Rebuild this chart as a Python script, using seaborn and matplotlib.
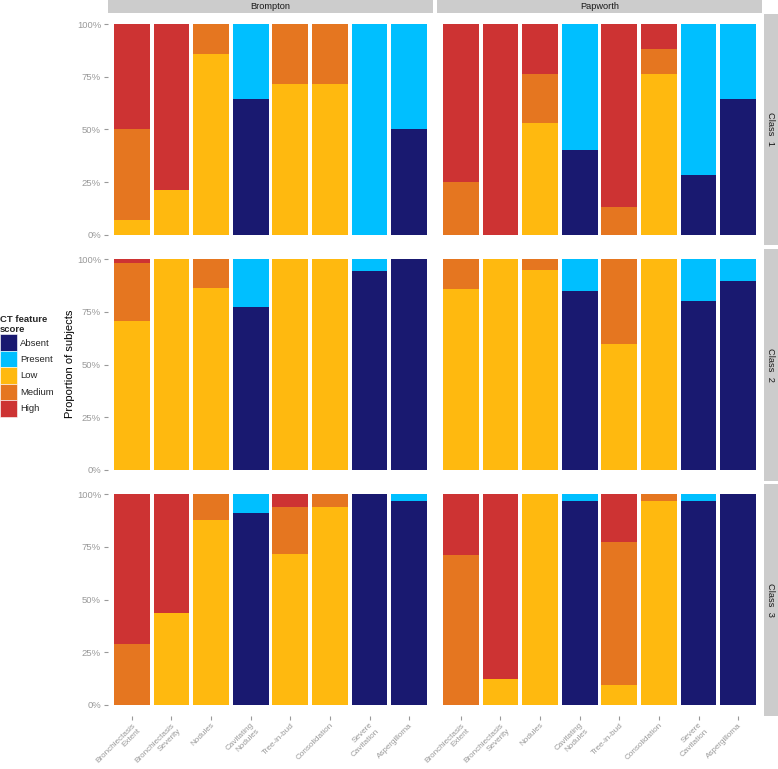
import matplotlib
matplotlib.use("Agg")
import matplotlib.pyplot as plt
from matplotlib.patches import Patch
import pandas as pd
import seaborn as sns

features = ["Bronchiectasis\nExtent", "Bronchiectasis\nSeverity", "Nodules",
            "Cavitating\nNodules", "Tree-in-bud", "Consolidation",
            "Severe\nCavitation", "Aspergilloma"]
sites = ["Brompton", "Papworth"]
classes = ["Class  1", "Class  2", "Class  3"]
levels = ["Absent", "Present", "Low", "Medium", "High"]
level_colors = ["#191970", "#00BFFF", "#FFB90F", "#E57620", "#CD3333"]

# % of subjects, one row per panel:
# Brompton C1, Papworth C1, Brompton C2, Papworth C2, Brompton C3, Papworth C3
absent = [
    [0, 0, 0, 64.3, 0, 0, 0, 50],
    [0, 0, 0, 40, 0, 0, 28.1, 64.5],
    [0, 0, 0, 77.4, 0, 0, 94.5, 100],
    [0, 0, 0, 85.1, 0, 0, 80.1, 89.9],
    [0, 0, 0, 91.3, 0, 0, 100, 97.0],
    [0, 0, 0, 96.8, 0, 0, 97.0, 100],
]
present = [
    [0, 0, 0, 35.7, 0, 0, 100, 50],
    [0, 0, 0, 60, 0, 0, 71.9, 35.5],
    [0, 0, 0, 22.6, 0, 0, 5.5, 0],
    [0, 0, 0, 14.9, 0, 0, 19.9, 10.1],
    [0, 0, 0, 8.7, 0, 0, 0, 3.0],
    [0, 0, 0, 3.2, 0, 0, 3.0, 0],
]
low = [
    [7.1, 21.4, 85.7, 0, 71.4, 71.4, 0, 0],
    [0, 0, 52.9, 0, 0, 76.5, 0, 0],
    [70.7, 100, 86.6, 0, 100, 100, 0, 0],
    [86.1, 100, 94.9, 0, 59.8, 100, 0, 0],
    [0, 43.8, 88.0, 0, 71.7, 94.1, 0, 0],
    [0, 12.3, 100, 0, 9.3, 97.0, 0, 0],
]
medium = [
    [42.9, 0, 14.3, 0, 28.6, 28.6, 0, 0],
    [25, 0, 23.5, 0, 13.3, 11.8, 0, 0],
    [27.7, 0, 13.4, 0, 0, 0, 0, 0],
    [13.9, 0, 5.1, 0, 40.2, 0, 0, 0],
    [28.8, 0, 12.0, 0, 22.4, 5.9, 0, 0],
    [71.2, 0, 0, 0, 67.9, 3.0, 0, 0],
]
high = [
    [50, 78.6, 0, 0, 0, 0, 0, 0],
    [75, 100, 23.5, 0, 86.7, 11.8, 0, 0],
    [1.6, 0, 0, 0, 0, 0, 0, 0],
    [0, 0, 0, 0, 0, 0, 0, 0],
    [71.2, 56.2, 0, 0, 5.9, 0, 0, 0],
    [28.8, 87.7, 0, 0, 22.8, 0, 0, 0],
]

# long table
rows = []
for p in range(6):
    site = sites[p % 2]
    cls = classes[p // 2]
    for lev, vals in zip(levels, [absent, present, low, medium, high]):
        for f, v in zip(features, vals[p]):
            rows.append({"site": site, "cls": cls, "feature": f, "level": lev, "value": v})
df = pd.DataFrame(rows)
df["level"] = pd.Categorical(df["level"], levels, ordered=True)
df = df.sort_values(["site", "cls", "feature", "level"])
df["cum"] = df.groupby(["site", "cls", "feature"], observed=True)["value"].cumsum()

sns.set_theme(style="white")
plt.rcParams["font.family"] = ["Liberation Sans", "DejaVu Sans"]

W, H = 778, 769
fig = plt.figure(figsize=(W / 100, H / 100), dpi=100)

col_x = [108, 437]
row_top = [13.5, 248.8, 483.8]
pw, ph = 325, 231.7
tick_col = "#999999"
strip_col = "#CCCCCC"

for r, cls in enumerate(classes):
    for c, site in enumerate(sites):
        ax = fig.add_axes([col_x[c] / W, 1 - (row_top[r] + ph) / H, pw / W, ph / H])
        panel = df[(df["site"] == site) & (df["cls"] == cls)]
        # draw cumulative layers from top down so lower layers sit in front
        for lev, col in reversed(list(zip(levels, level_colors))):
            sub = panel[panel["level"] == lev]
            sns.barplot(data=sub, x="feature", y="cum", order=features, color=col,
                        width=0.9, saturation=1, errorbar=None, linewidth=0, ax=ax)
        ax.set_xlim(-0.6, 7.6)
        ax.set_ylim(-5, 105)
        ax.set_xlabel("")
        ax.set_ylabel("")
        for s in ax.spines.values():
            s.set_visible(False)
        ax.set_yticks([0, 25, 50, 75, 100])
        ax.set_yticklabels(["0%", "25%", "50%", "75%", "100%"])
        ax.tick_params(axis="both", colors=tick_col, length=3, width=0.8, pad=2)
        ax.tick_params(axis="y", left=(c == 0), labelleft=(c == 0), labelsize=6.8)
        ax.tick_params(axis="x", bottom=(r == 2), labelbottom=(r == 2),
                       pad=1.5, labelsize=5.9)
        if r == 2:
            for lab in ax.get_xticklabels():
                lab.set_rotation(45)
                lab.set_ha("right")
                lab.set_va("top")
                lab.set_rotation_mode("anchor")

        # top strips
        if r == 0:
            sax = fig.add_axes([col_x[c] / W, 1 - 13 / H, pw / W, 13 / H])
            sax.set_facecolor(strip_col)
            sax.set_xticks([])
            sax.set_yticks([])
            for s in sax.spines.values():
                s.set_visible(False)
            sax.text(0.5, 0.5, site, ha="center", va="center", fontsize=6.7,
                     color="#1A1A1A", transform=sax.transAxes)
        # right strips
        if c == 1:
            rax = fig.add_axes([764 / W, 1 - (row_top[r] + ph) / H, 14 / W, ph / H])
            rax.set_facecolor(strip_col)
            rax.set_xticks([])
            rax.set_yticks([])
            for s in rax.spines.values():
                s.set_visible(False)
            rax.text(0.5, 0.5, cls, ha="center", va="center", fontsize=6.7,
                     rotation=-90, color="#1A1A1A", transform=rax.transAxes)

fig.text(70 / W, 1 - 364 / H, "Proportion of subjects", rotation=90,
         ha="center", va="center", fontsize=8.0, color="black")

handles = [Patch(facecolor=col, edgecolor="white", linewidth=0.4) for col in level_colors]
fs = 6.8
leg = fig.legend(handles, levels, loc="upper left", bbox_to_anchor=(0.0, 1 - 315 / H),
                 frameon=False, fontsize=fs, title="CT feature\nscore",
                 title_fontproperties={"weight": "bold", "size": fs},
                 handlelength=1.8, handleheight=2.3, labelspacing=0,
                 handletextpad=0.3, borderpad=0, borderaxespad=0, alignment="left")

fig.savefig("out.png", dpi=100, facecolor="white")
